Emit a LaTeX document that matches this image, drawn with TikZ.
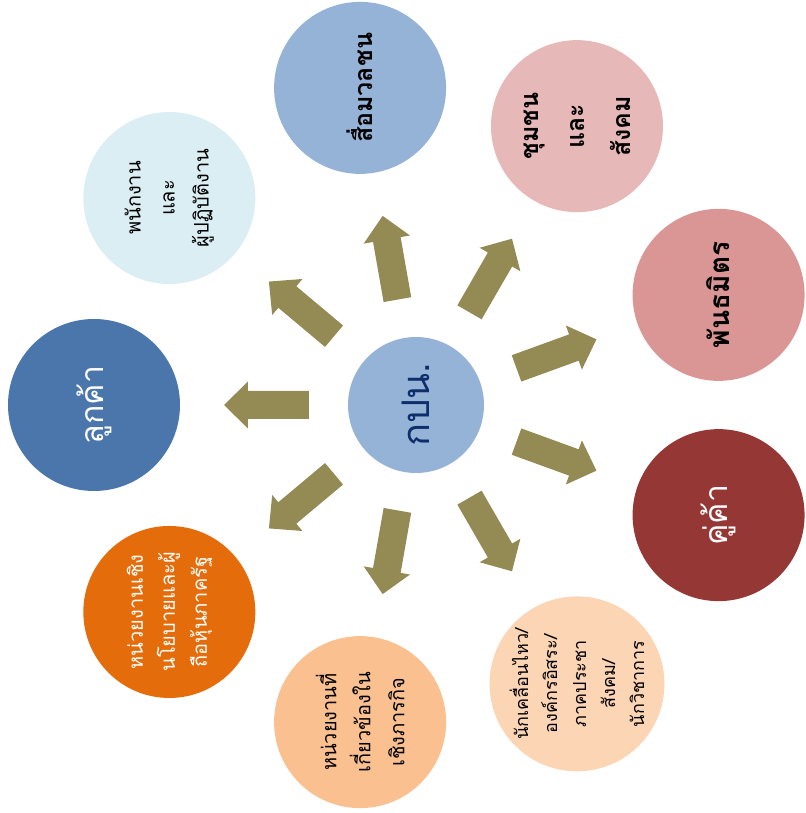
\documentclass[tikz,border=0pt]{standalone}
\usepackage{fontspec}
\setmainfont[Script=Thai]{Loma}
\definecolor{arrowc}{HTML}{948A54}
\definecolor{cblue}{HTML}{95B3D7}
\definecolor{navy}{HTML}{0E2D6B}
\definecolor{cpink}{HTML}{E6B9B8}
\definecolor{crose}{HTML}{D99694}
\definecolor{cmaroon}{HTML}{953735}
\definecolor{cpeach}{HTML}{FCD5B5}
\definecolor{capricot}{HTML}{FAC090}
\definecolor{corange}{HTML}{E46C0A}
\definecolor{cdblue}{HTML}{4A76AC}
\definecolor{caqua}{HTML}{DBEEF4}
\begin{document}
\begin{tikzpicture}[x=1pt,y=1pt,
  bub/.style={circle, inner sep=0pt, minimum size=172pt, rotate=90, align=center},
  blockarrow/.style={fill=arrowc}]
\useasboundingbox (-416,-408) rectangle (389,405);
\node[circle, inner sep=0pt, minimum size=136pt, fill=cblue, rotate=90, text=navy,
  font=\fontsize{38}{42}\selectfont] (c) at (0,0) {กปน.};
\foreach \a in {180,140,...,-140}{
  \fill[blockarrow, rotate around={\a:(c.center)}]
    (107,-14) -- (168,-14) -- (168,-23.5) -- (192,0) -- (168,23.5) -- (168,14) -- (107,14) -- cycle;
}
\node[bub, fill=cdblue, text=white, font=\fontsize{32}{40}\selectfont] (n1) at (180:322) {ลูกค้า};
\node[bub, fill=caqua, font=\fontsize{20}{34}\selectfont] (n2) at (140:322) {พนักงาน\\และ\\ผู้ปฏิบัติงาน};
\node[bub, fill=cblue, font=\bfseries\fontsize{25}{40}\selectfont] (n3) at (100:322) {สื่อมวลชน};
\node[bub, fill=cpink, font=\bfseries\fontsize{25}{46}\selectfont] (n4) at (60:322) {ชุมชน\\และ\\สังคม};
\node[bub, fill=crose, font=\bfseries\fontsize{28}{40}\selectfont] (n5) at (20:322) {พันธมิตร};
\node[bub, fill=cmaroon, text=white, font=\fontsize{32}{40}\selectfont] (n6) at (-20:322) {คู่ค้า};
\node[bub, fill=cpeach, font=\fontsize{18}{29}\selectfont] (n7) at (-60:322) {นักเคลื่อนไหว/\\องค์กรอิสระ/\\ภาคประชา\\สังคม/\\นักวิชาการ};
\node[bub, fill=capricot, font=\fontsize{20}{34}\selectfont] (n8) at (-100:322) {หน่วยงานที่\\เกี่ยวข้องใน\\เชิงภารกิจ};
\node[bub, fill=corange, text=white, font=\fontsize{20}{32}\selectfont] (n9) at (-140:322) {หน่วยงานเชิง\\นโยบายและผู้\\ถือหุ้นภาครัฐ};
\end{tikzpicture}
\end{document}
